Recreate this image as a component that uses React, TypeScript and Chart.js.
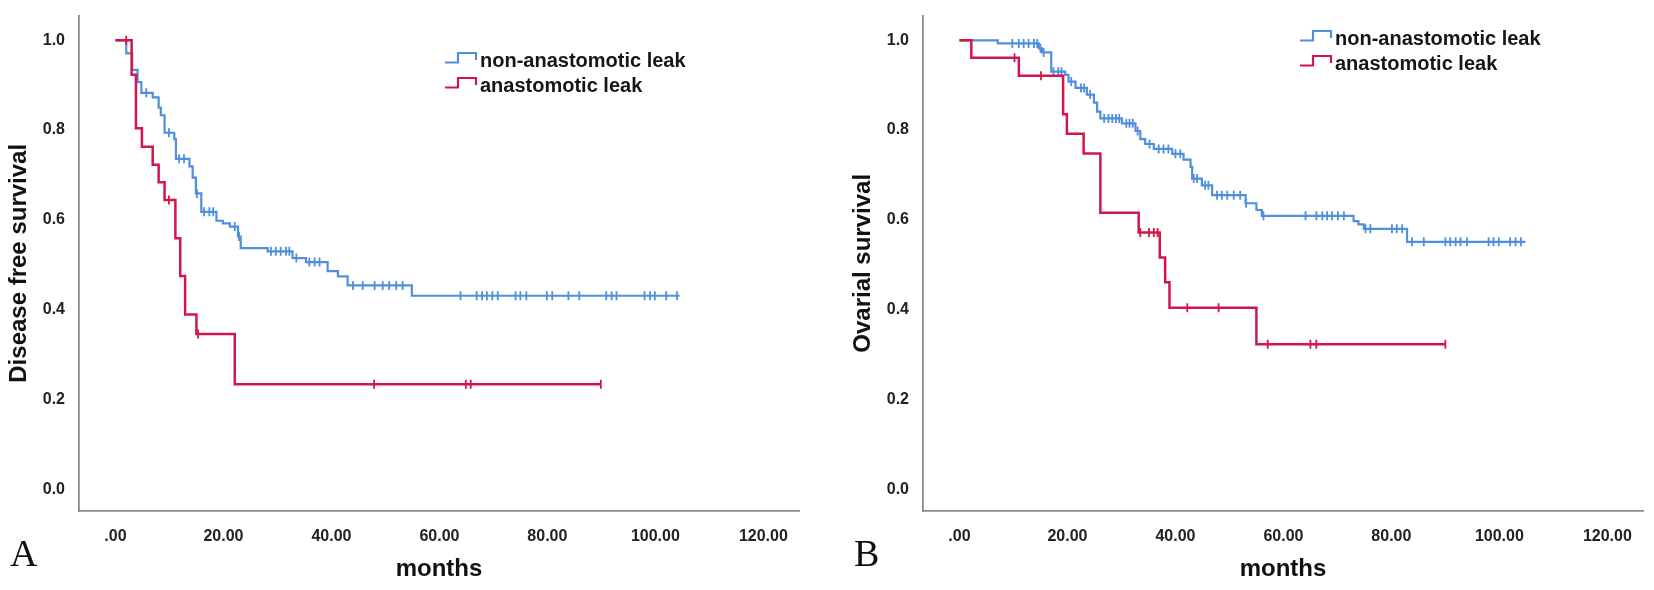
import React, { useEffect, useRef } from "react";
import { Chart, registerables } from "chart.js";

Chart.register(...registerables);

// ---------- shared axis data ----------
const xTickValues = [0, 20, 40, 60, 80, 100, 120];
const yTickValues = [0, 0.2, 0.4, 0.6, 0.8, 1.0];
const seriesNames = ["non-anastomotic leak", "anastomotic leak"];

// ---------- Panel A: Disease free survival ----------
const dfsNonLeakTimes = [0, 2.0, 3.1, 4.1, 4.8, 6.9, 8.0, 8.4, 9.1, 10.9, 11.2, 13.7, 14.3, 14.9, 15.9, 18.7, 19.9, 21.2, 22.7, 23.2, 28.2, 32.8, 35.3, 39.3, 41.2, 43.0, 54.9];
const dfsNonLeakSurv = [1.0, 0.971, 0.934, 0.907, 0.883, 0.873, 0.85, 0.833, 0.794, 0.78, 0.736, 0.719, 0.694, 0.659, 0.618, 0.598, 0.592, 0.585, 0.563, 0.537, 0.53, 0.515, 0.506, 0.486, 0.474, 0.454, 0.431];
const dfsNonLeakEnd = 104.5;
const dfsNonLeakCensored = [5.7, 9.9, 11.8, 12.7, 15.1, 16.4, 17.4, 18.1, 22.1, 22.9, 28.8, 29.7, 30.6, 31.6, 32.2, 33.5, 35.9, 36.9, 37.8, 44.0, 45.8, 48.0, 49.5, 50.7, 52.0, 53.2, 63.9, 66.9, 67.9, 68.8, 69.8, 70.8, 74.1, 75.0, 76.1, 79.9, 80.9, 83.9, 85.9, 90.9, 91.9, 92.8, 98.0, 99.0, 99.9, 102.0, 104.0];

const dfsLeakTimes = [0, 3.0, 3.8, 4.9, 6.9, 8.0, 9.1, 11.1, 12.0, 12.9, 15.0, 22.1];
const dfsLeakSurv = [1.0, 0.923, 0.804, 0.763, 0.723, 0.684, 0.644, 0.559, 0.475, 0.389, 0.346, 0.234];
const dfsLeakEnd = 89.9;
const dfsLeakCensored = [2.0, 9.9, 15.3, 47.9, 64.9, 65.8, 89.9];

// ---------- Panel B: Ovarial survival ----------
const osNonLeakTimes = [0, 7.1, 14.7, 15.3, 17.0, 19.6, 20.2, 21.5, 23.6, 24.9, 25.5, 26.1, 30.1, 32.6, 33.5, 34.4, 36.0, 39.4, 41.5, 42.8, 43.1, 44.9, 46.8, 53.0, 55.0, 56.0, 73.0, 73.9, 74.9, 82.9];
const osNonLeakSurv = [1.0, 0.993, 0.982, 0.973, 0.93, 0.923, 0.908, 0.894, 0.879, 0.861, 0.841, 0.826, 0.815, 0.798, 0.78, 0.769, 0.758, 0.747, 0.734, 0.718, 0.692, 0.677, 0.655, 0.637, 0.622, 0.609, 0.597, 0.59, 0.58, 0.551];
const osNonLeakEnd = 104.8;
const osNonLeakCensored = [9.8, 11.0, 11.9, 12.8, 13.8, 14.4, 15.0, 15.6, 17.4, 18.3, 18.9, 20.7, 22.5, 23.1, 24.2, 26.8, 27.6, 28.3, 29.0, 29.6, 30.9, 31.5, 32.1, 33.0, 35.2, 36.9, 37.8, 38.7, 40.0, 40.9, 43.4, 44.0, 45.5, 46.1, 47.7, 48.6, 49.6, 50.8, 52.0, 53.1, 56.3, 64.1, 66.1, 67.2, 68.1, 69.0, 70.1, 71.2, 75.2, 76.1, 80.1, 81.0, 82.0, 83.8, 86.0, 90.0, 90.9, 91.9, 92.8, 94.0, 98.0, 98.9, 99.9, 102.0, 103.0, 104.0];

const osLeakTimes = [0, 2.2, 11.0, 19.2, 19.9, 23.0, 26.1, 33.2, 37.1, 38.1, 38.9, 55.0];
const osLeakSurv = [1.0, 0.961, 0.921, 0.835, 0.792, 0.748, 0.616, 0.572, 0.516, 0.461, 0.404, 0.323];
const osLeakEnd = 90.0;
const osLeakCensored = [10.2, 15.1, 33.5, 35.1, 36.0, 36.7, 42.2, 48.0, 57.1, 65.0, 66.1, 90.0];

// ---------- styles ----------
const BLUE = "#4f8fdc";
const RED = "#d3164a";
const AXIS = "#8c8c8c";
const SANS = '"Liberation Sans", Arial, Helvetica, sans-serif';
const SERIF = '"Liberation Serif", "Times New Roman", serif';

Chart.defaults.font.family = SANS;

function stepPoints(times: number[], surv: number[], end: number) {
  const pts = times.map((t, i) => ({ x: t, y: surv[i] }));
  pts.push({ x: end, y: surv[surv.length - 1] });
  return pts;
}

function levelAt(times: number[], surv: number[], t: number) {
  let s = surv[0];
  for (let i = 0; i < times.length; i++) if (times[i] <= t) s = surv[i];
  return s;
}

function censorPoints(times: number[], surv: number[], cens: number[]) {
  return cens.map((t) => ({ x: t, y: levelAt(times, surv, t) }));
}

type PanelSpec = {
  yTitle: string;
  letter: string;
  width: number;
  padRight: number;
  legendX: number;
  legendBase: number;
  blue: { times: number[]; surv: number[]; end: number; cens: number[] };
  red: { times: number[]; surv: number[]; end: number; cens: number[] };
};

function overlayPlugin(spec: PanelSpec) {
  return {
    id: "overlay",
    afterDraw(chart: any) {
      const ctx = chart.ctx as CanvasRenderingContext2D;
      ctx.save();
      const colors = [BLUE, RED];
      seriesNames.forEach((name, i) => {
        const base = spec.legendBase + i * 25;
        const x = spec.legendX;
        ctx.strokeStyle = colors[i];
        ctx.lineWidth = 2.2;
        ctx.beginPath();
        ctx.moveTo(x, base - 4.5);
        ctx.lineTo(x + 13, base - 4.5);
        ctx.lineTo(x + 13, base - 14);
        ctx.lineTo(x + 31, base - 14);
        ctx.lineTo(x + 31, base - 7);
        ctx.stroke();
        ctx.fillStyle = "#161616";
        ctx.font = `bold 20px ${SANS}`;
        ctx.textBaseline = "alphabetic";
        ctx.textAlign = "left";
        ctx.fillText(name, x + 35, base);
      });
      ctx.fillStyle = "#111";
      ctx.font = `38px ${SERIF}`;
      ctx.textBaseline = "alphabetic";
      ctx.textAlign = "left";
      ctx.fillText(spec.letter, 10, 566);
      ctx.restore();
    },
  };
}

function makeConfig(spec: PanelSpec): any {
  return {
    type: "line",
    data: {
      datasets: [
        {
          label: seriesNames[0],
          data: stepPoints(spec.blue.times, spec.blue.surv, spec.blue.end),
          borderColor: BLUE,
          borderWidth: 2.2,
          stepped: "before",
          pointRadius: 0,
          fill: false,
          order: 3,
        },
        {
          type: "scatter",
          label: seriesNames[0] + " censored",
          data: censorPoints(spec.blue.times, spec.blue.surv, spec.blue.cens),
          pointStyle: "line",
          rotation: 90,
          pointRadius: 4.5,
          borderColor: BLUE,
          backgroundColor: BLUE,
          borderWidth: 1.8,
          showLine: false,
          order: 2,
        },
        {
          label: seriesNames[1],
          data: stepPoints(spec.red.times, spec.red.surv, spec.red.end),
          borderColor: RED,
          borderWidth: 2.5,
          stepped: "before",
          pointRadius: 0,
          fill: false,
          order: 1,
        },
        {
          type: "scatter",
          label: seriesNames[1] + " censored",
          data: censorPoints(spec.red.times, spec.red.surv, spec.red.cens),
          pointStyle: "line",
          rotation: 90,
          pointRadius: 4.5,
          borderColor: RED,
          backgroundColor: RED,
          borderWidth: 1.8,
          showLine: false,
          order: 0,
        },
      ],
    },
    options: {
      responsive: false,
      animation: false,
      events: [],
      layout: { padding: { left: 0, right: spec.padRight, top: 10, bottom: 0 } },
      plugins: {
        legend: { display: false },
        tooltip: { enabled: false },
      },
      scales: {
        x: {
          type: "linear",
          min: -6.75,
          max: 126.6,
          afterBuildTicks: (s: any) => {
            s.ticks = xTickValues.map((v) => ({ value: v }));
          },
          afterFit: (s: any) => {
            s.height = 79;
          },
          grid: { display: false },
          border: { display: true, color: AXIS, width: 1.8 },
          ticks: {
            padding: 8,
            maxRotation: 0,
            autoSkip: false,
            color: "#222",
            font: { size: 16, weight: "bold" },
            callback: (v: number) => (v === 0 ? ".00" : v.toFixed(2)),
          },
          title: {
            display: true,
            text: "months",
            color: "#111",
            font: { size: 24, weight: "bold" },
            padding: { top: 0, bottom: 6 },
          },
        },
        y: {
          type: "linear",
          min: -0.0485,
          max: 1.055,
          afterBuildTicks: (s: any) => {
            s.ticks = yTickValues.map((v) => ({ value: v }));
          },
          afterFit: (s: any) => {
            s.width = 79;
          },
          grid: { display: false },
          border: { display: true, color: AXIS, width: 1.8 },
          ticks: {
            padding: 6,
            autoSkip: false,
            color: "#222",
            font: { size: 16, weight: "bold" },
            callback: (v: number) => v.toFixed(1),
          },
          title: {
            display: true,
            text: spec.yTitle,
            color: "#111",
            font: { size: 24, weight: "bold" },
            padding: { top: 5, bottom: 0 },
          },
        },
      },
    },
    plugins: [overlayPlugin(spec)],
  };
}

const panelA: PanelSpec = {
  yTitle: "Disease free survival",
  letter: "A",
  width: 844,
  padRight: 45,
  legendX: 445,
  legendBase: 67,
  blue: { times: dfsNonLeakTimes, surv: dfsNonLeakSurv, end: dfsNonLeakEnd, cens: dfsNonLeakCensored },
  red: { times: dfsLeakTimes, surv: dfsLeakSurv, end: dfsLeakEnd, cens: dfsLeakCensored },
};

const panelB: PanelSpec = {
  yTitle: "Ovarial survival",
  letter: "B",
  width: 810,
  padRight: 11,
  legendX: 456,
  legendBase: 45,
  blue: { times: osNonLeakTimes, surv: osNonLeakSurv, end: osNonLeakEnd, cens: osNonLeakCensored },
  red: { times: osLeakTimes, surv: osLeakSurv, end: osLeakEnd, cens: osLeakCensored },
};

function Panel({ spec, left }: { spec: PanelSpec; left: number }) {
  const ref = useRef<HTMLCanvasElement | null>(null);
  useEffect(() => {
    if (!ref.current) return;
    const chart = new Chart(ref.current, makeConfig(spec));
    return () => chart.destroy();
  }, [spec]);
  return (
    <div style={{ position: "absolute", left, top: 0, width: spec.width, height: 590 }}>
      <canvas ref={ref} width={spec.width} height={590} style={{ width: spec.width, height: 590, display: "block" }} />
    </div>
  );
}

export default function App() {
  return (
    <div style={{ position: "absolute", left: 0, top: 0, width: 1654, height: 590, background: "#fff", overflow: "hidden" }}>
      <Panel spec={panelA} left={0} />
      <Panel spec={panelB} left={844} />
    </div>
  );
}
